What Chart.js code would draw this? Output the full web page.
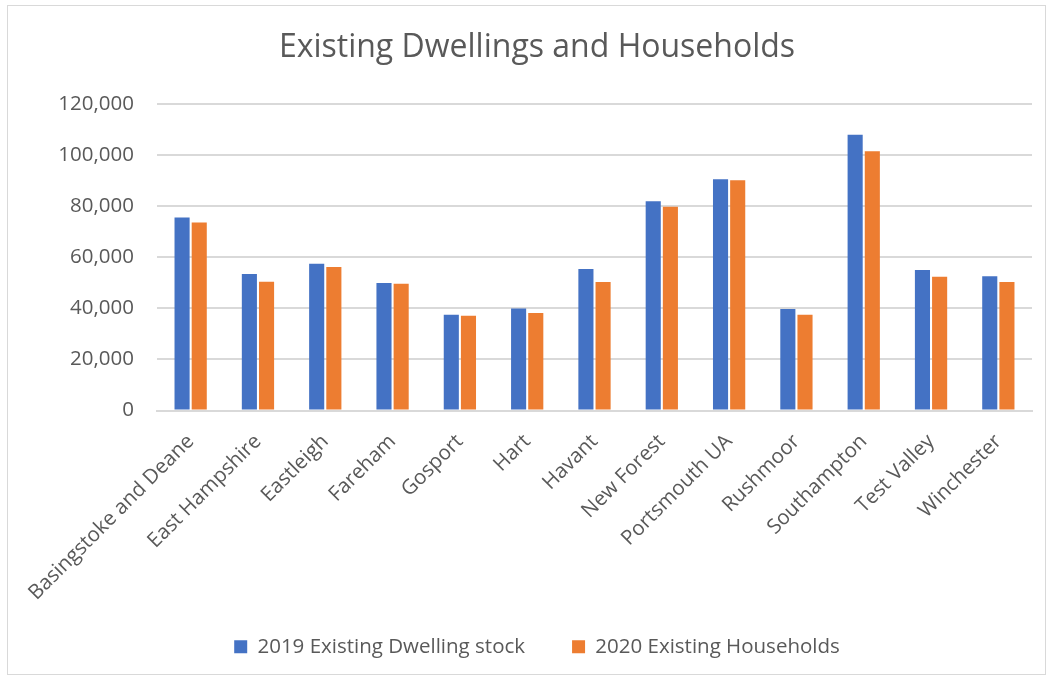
<!DOCTYPE html>
<html lang="en">
<head>
    <meta charset="UTF-8">
    <title>Existing Dwellings and Households</title>
    <script src="https://cdn.jsdelivr.net/npm/chart.js"></script>
    <style>
        body {
            margin: 0;
            background: #ffffff;
            font-family: "Open Sans", sans-serif;
        }
        .frame {
            position: absolute;
            left: 7px;
            top: 5px;
            width: 1037px;
            height: 668px;
            border: 1px solid #d9d9d9;
        }
        .chart-box {
            position: absolute;
            left: 0;
            top: 0;
            width: 1051px;
            height: 679px;
        }
    </style>
</head>
<body>
    <div class="frame"></div>
    <div class="chart-box">
        <canvas id="dwellingChart"></canvas>
    </div>

    <script>
        // ---------- data ----------
        const districts = [
            'Basingstoke and Deane', 'East Hampshire', 'Eastleigh', 'Fareham', 'Gosport',
            'Hart', 'Havant', 'New Forest', 'Portsmouth UA', 'Rushmoor',
            'Southampton', 'Test Valley', 'Winchester'
        ];
        const dwellingStock2019 = [75700, 53500, 57500, 50000, 37500, 40000, 55500, 82000, 90700, 39800, 108100, 55100, 52600];
        const households2020 = [73700, 50500, 56300, 49700, 37100, 38200, 50400, 79900, 90300, 37500, 101600, 52400, 50400];
        const yTicks = [0, 20000, 40000, 60000, 80000, 100000, 120000];

        const TEXT = '#595959';
        const GRID = '#d9d9d9';
        const FONT = '"Open Sans", sans-serif';

        new Chart(document.getElementById('dwellingChart'), {
            type: 'bar',
            data: {
                labels: districts,
                datasets: [{
                    label: '2019 Existing Dwelling stock',
                    data: dwellingStock2019,
                    backgroundColor: '#4472c4',
                    categoryPercentage: 0.51,
                    barPercentage: 0.88
                }, {
                    label: '2020 Existing Households',
                    data: households2020,
                    backgroundColor: '#ed7d31',
                    categoryPercentage: 0.51,
                    barPercentage: 0.88
                }]
            },
            options: {
                responsive: true,
                maintainAspectRatio: false,
                animation: false,
                layout: {
                    padding: { top: 0, right: 19, bottom: 12, left: 42 }
                },
                plugins: {
                    title: {
                        display: true,
                        text: 'Existing Dwellings and Households',
                        color: TEXT,
                        font: { family: FONT, size: 32, weight: 'normal' },
                        padding: { top: 29, bottom: 37 }
                    },
                    legend: {
                        position: 'bottom',
                        labels: {
                            color: TEXT,
                            boxWidth: 13,
                            boxHeight: 13,
                            padding: 47,
                            font: { family: FONT, size: 20.5 }
                        }
                    },
                    tooltip: { enabled: false }
                },
                scales: {
                    x: {
                        grid: { display: false },
                        border: { display: true, color: GRID, width: 2 },
                        ticks: {
                            color: TEXT,
                            autoSkip: false,
                            minRotation: 45,
                            maxRotation: 45,
                            padding: 11,
                            font: { family: FONT, size: 20.5 }
                        },
                        afterFit: (scale) => {
                            scale.height = 179;
                            // long rotated labels run a little past the axis box, don't clip them
                            scale._computeLabelArea = () => undefined;
                        }
                    },
                    y: {
                        min: 0,
                        max: 120000,
                        grid: { color: GRID, lineWidth: 2, drawTicks: false },
                        border: { display: false },
                        afterBuildTicks: (scale) => {
                            scale.ticks = yTicks.map(v => ({ value: v }));
                        },
                        ticks: {
                            color: TEXT,
                            padding: 23,
                            font: { family: FONT, size: 20.5 },
                            callback: (v) => v.toLocaleString('en-GB')
                        },
                        afterFit: (scale) => { scale.width = 115; }
                    }
                }
            }
        });
    </script>
</body>
</html>
